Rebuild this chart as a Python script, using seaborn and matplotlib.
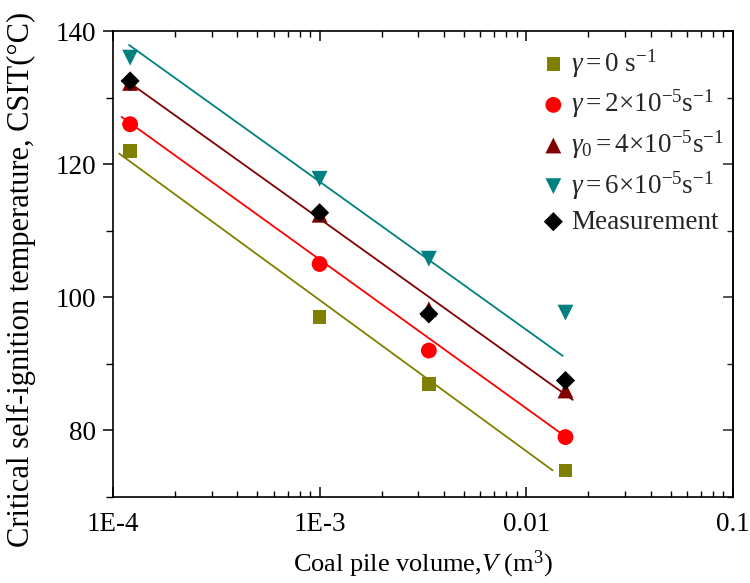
import numpy as np
import pandas as pd
import matplotlib
matplotlib.use("Agg")
import matplotlib.pyplot as plt
import matplotlib.ticker as mticker
import seaborn as sns

# Coal pile volumes (m^3)
volume = [1.21e-4, 1.0e-3, 3.38e-3, 1.55e-2]

# Critical self-ignition temperature (°C) per oxygen-consumption case
csit_g0 = [122.0, 97.0, 87.0, 74.0]
csit_g2 = [126.0, 105.0, 92.0, 79.0]
csit_g4 = [132.2, 112.4, 98.2, 86.0]
csit_g6 = [136.0, 117.8, 105.8, 97.7]
csit_meas = [132.5, 112.7, 97.5, 87.5]

# Predicted CSIT trend lines (log-linear): volume and temperature at both ends
trend_v_start = [1.07e-4, 1.10e-4, 1.15e-4, 1.195e-4]
trend_v_end = [1.343e-2, 1.53e-2, 1.68e-2, 1.503e-2]
trend_t_start = [121.6, 127.1, 132.65, 137.9]
trend_t_end = [74.0, 79.2, 84.6, 91.2]

labels = [
    r"$\gamma = 0\ \mathrm{s}^{\mathrm{-1}}$",
    r"$\gamma = 2{\times}10^{-5}\mathrm{s}^{-1}$",
    r"$\gamma_0 = 4{\times}10^{-5}\mathrm{s}^{-1}$",
    r"$\gamma = 6{\times}10^{-5}\mathrm{s}^{-1}$",
    "Measurement",
]
colors = ["#808000", "#ff0000", "#800000", "#008080", "#000000"]
markers = ["s", "o", "^", "v", "D"]
sizes = [95, 130, 130, 130, 95]

sns.set_theme(style="ticks")
plt.rcParams["font.family"] = ["Liberation Serif", "DejaVu Serif"]
plt.rcParams["mathtext.fontset"] = "custom"
plt.rcParams["mathtext.rm"] = "Liberation Serif"
plt.rcParams["mathtext.it"] = "Liberation Serif:italic"
plt.rcParams["mathtext.bf"] = "Liberation Serif:bold"

fig = plt.figure(figsize=(7.5, 5.83), dpi=100)
ax = fig.add_axes([0.1507, 0.1475, 0.8263, 0.7993])

series = [csit_g0, csit_g2, csit_g4, csit_g6, csit_meas]
frames = []
for lab, vals in zip(labels, series):
    frames.append(pd.DataFrame({"V": volume, "T": vals, "case": lab}))
df = pd.concat(frames, ignore_index=True)

# trend lines
for i in range(4):
    line = pd.DataFrame({"V": [trend_v_start[i], trend_v_end[i]],
                         "T": [trend_t_start[i], trend_t_end[i]]})
    sns.lineplot(data=line, x="V", y="T", ax=ax, color=colors[i], lw=1.3,
                 legend=False)

for i, lab in enumerate(labels):
    sub = df[df["case"] == lab]
    sns.scatterplot(data=sub, x="V", y="T", ax=ax, color=colors[i],
                    marker=markers[i], s=sizes[i], edgecolor="none",
                    label=lab, zorder=3 + (1 if i == 4 else 0))

ax.set_xscale("log")
ax.set_xlim(1e-4, 0.1)
ax.set_ylim(70, 140)
ax.xaxis.set_major_locator(mticker.FixedLocator([1e-4, 1e-3, 1e-2, 1e-1]))
ax.xaxis.set_major_formatter(mticker.FixedFormatter(["1E-4", "1E-3", "0.01", "0.1"]))
ax.xaxis.set_minor_locator(mticker.LogLocator(base=10, subs=np.arange(2, 10), numticks=20))
ax.xaxis.set_minor_formatter(mticker.NullFormatter())
ax.yaxis.set_major_locator(mticker.MultipleLocator(20))
ax.yaxis.set_minor_locator(mticker.MultipleLocator(10))

for sp in ax.spines.values():
    sp.set_color("black")
    sp.set_linewidth(1.2)

ax.tick_params(axis="x", which="both", direction="in", top=True, bottom=True,
               labelsize=19.5, pad=11, colors="black")
ax.tick_params(axis="x", which="major", length=7, width=1.1)
ax.tick_params(axis="x", which="minor", length=4, width=1.0)
ax.tick_params(axis="y", which="both", direction="out", left=True, right=False,
               labelsize=19.5, pad=5, colors="black")
ax.tick_params(axis="y", which="major", length=7, width=1.1)
ax.tick_params(axis="y", which="minor", length=5, width=1.0)
# inward ticks on the right spine
ax_r = ax.secondary_yaxis("right")
ax_r.yaxis.set_major_locator(mticker.MultipleLocator(20))
ax_r.yaxis.set_minor_locator(mticker.MultipleLocator(10))
ax_r.tick_params(axis="y", which="both", direction="in", labelright=False)
ax_r.tick_params(axis="y", which="major", length=7, width=1.1)
ax_r.tick_params(axis="y", which="minor", length=4, width=1.0)
ax_r.spines["right"].set_linewidth(1.2)

ax.set_xlabel(r"Coal pile volume,$\mathit{V}$ (m$^3$)", fontsize=19, labelpad=8, color="black")
ylab = ax.set_ylabel("Critical self-ignition temperature, CSIT(°C)", fontsize=22,
                     color="black")
ylab.set_verticalalignment("center")
ax.yaxis.set_label_coords(-0.147, 0.466)

leg = ax.legend(loc="upper right", frameon=False, fontsize=19.5, handletextpad=0.15,
                labelspacing=0.3, borderaxespad=0.2, handlelength=1.0,
                bbox_to_anchor=(1.012, 1.0))

fig.savefig("out.png", dpi=100, facecolor="white")
